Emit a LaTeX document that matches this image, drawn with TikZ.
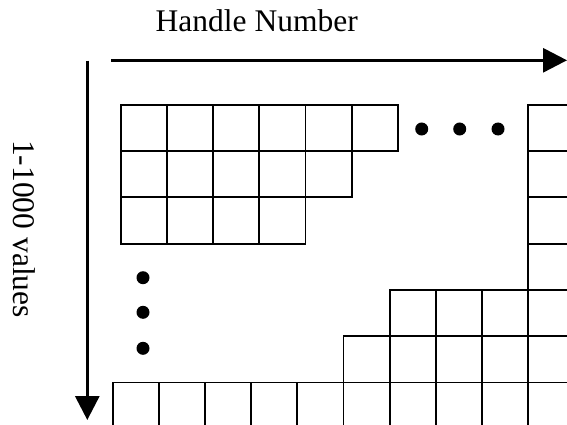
\documentclass[tikz,border=0pt]{standalone}
\usepackage{fontspec}
\setmainfont{Liberation Serif}
\usetikzlibrary{arrows.meta}
\begin{document}
\begin{tikzpicture}[x=1pt,y=-1pt,
  cell/.style={draw=black,line width=1.8pt},
  axis/.style={draw=black,line width=3pt,-{Triangle[length=24pt,width=24pt]}},
  dotmark/.style={fill=black},
  lab/.style={font=\fontsize{31.5}{36}\selectfont,inner sep=0pt,anchor=base}]
\useasboundingbox (0,0) rectangle (567,425);
\begin{scope}
\clip (0,0) rectangle (567,425);
% top-left staircase block
\foreach \r/\n in {0/5,1/4,2/3}{
  \foreach \c in {0,...,\n}{
    \draw[cell] (120.7+\c*46.2,104.7+\r*46.3) rectangle ++(46.2,46.3);
  }
}
% right column
\foreach \r in {0,...,6}{
  \draw[cell] (528,104.7+\r*46.3) rectangle ++(46.2,46.3);
}
% bottom-right staircase
\foreach \c in {6,7,8}{
  \draw[cell] (112.7+\c*46.15,289.9) rectangle ++(46.15,46.3);
}
\foreach \c in {5,...,8}{
  \draw[cell] (112.7+\c*46.15,336.2) rectangle ++(46.15,46.3);
}
\foreach \c in {0,...,8}{
  \draw[cell] (112.7+\c*46.15,382.5) rectangle ++(46.15,46.3);
}
\end{scope}
% dots
\foreach \x in {421.7,459.7,498}{\fill[dotmark] (\x,129) circle (6.5);}
\foreach \y in {277.7,312.3,348.3}{\fill[dotmark] (143,\y) circle (6.5);}
% axes
\coordinate (hs) at (111,60.3);
\coordinate (he) at (567,60.3);
\coordinate (vs) at (87.3,60.7);
\coordinate (ve) at (87.3,420);
\draw[axis] (hs) -- (he);
\draw[axis] (vs) -- (ve);
% labels
\node[lab] (hlab) at (256.7,31.7) {Handle Number};
\node[lab,rotate=-90] (vlab) at (13.3,229) {1-1000 values};
\end{tikzpicture}
\end{document}
